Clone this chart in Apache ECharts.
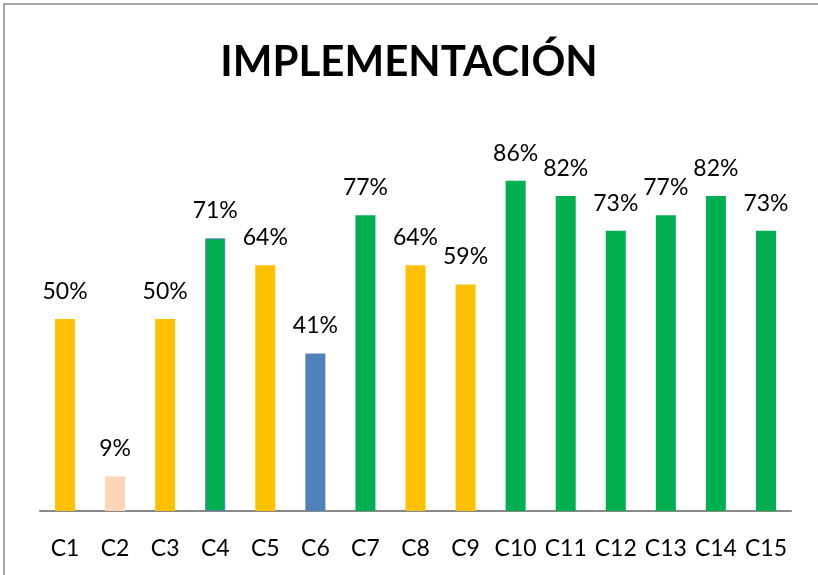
<!DOCTYPE html>
<html><head><meta charset="utf-8">
<script src="https://cdn.jsdelivr.net/npm/echarts@6/dist/echarts.min.js"></script>
<style>html,body{margin:0;padding:0;background:#fff}#c{width:818px;height:575px}</style>
</head><body><div id="c"></div>
<script>
const categories = ['C1','C2','C3','C4','C5','C6','C7','C8','C9','C10','C11','C12','C13','C14','C15'];
const values = [50, 9, 50, 71, 64, 41, 77, 64, 59, 86, 82, 73, 77, 82, 73];
const barColors = ['#FFC000','#FBD5B5','#FFC000','#00B050','#FFC000','#4F81BD','#00B050','#FFC000','#FFC000','#00B050','#00B050','#00B050','#00B050','#00B050','#00B050'];
const borderColors = ['', '', '', '#4F81BD', '', '', '', '', '', '', '', '', '', '', ''];
const titleText = 'IMPLEMENTACIÓN';

const chart = echarts.init(document.getElementById('c'), null, {renderer:'canvas'});
const font = 'Lato, "Open Sans", sans-serif';
chart.setOption({
  animation: false,
  backgroundColor: '#fff',
  title: {
    text: titleText, left: 'center', top: 36,
    textStyle: {fontFamily: font, fontWeight: 'bold', fontSize: 42, color: '#000'}
  },
  graphic: [{
    type: 'rect', silent: true, z: -1,
    shape: {x: 4, y: 4, width: 900, height: 700},
    style: {fill: 'none', stroke: '#888', lineWidth: 1.5}
  }],
  grid: {left: 40, right: 27, top: 127, bottom: 64, containLabel: false},
  xAxis: {
    type: 'category', data: categories,
    axisLine: {lineStyle: {color: '#888', width: 2}},
    axisTick: {show: false},
    axisLabel: {fontFamily: font, fontSize: 23, color: '#000', margin: 26, interval: 0}
  },
  yAxis: {type: 'value', min: 0, max: 100, show: false, splitLine: {show: false}},
  series: [{
    type: 'bar', barWidth: 20,
    data: values.map((v, i) => ({
      value: v,
      itemStyle: {
        color: barColors[i],
        borderColor: borderColors[i] || barColors[i],
        borderWidth: borderColors[i] ? 1 : 0
      }
    })),
    label: {
      show: true, position: 'top', distance: 16,
      formatter: p => p.value + '%',
      fontFamily: font, fontSize: 23, color: '#000'
    }
  }]
});
</script></body></html>
